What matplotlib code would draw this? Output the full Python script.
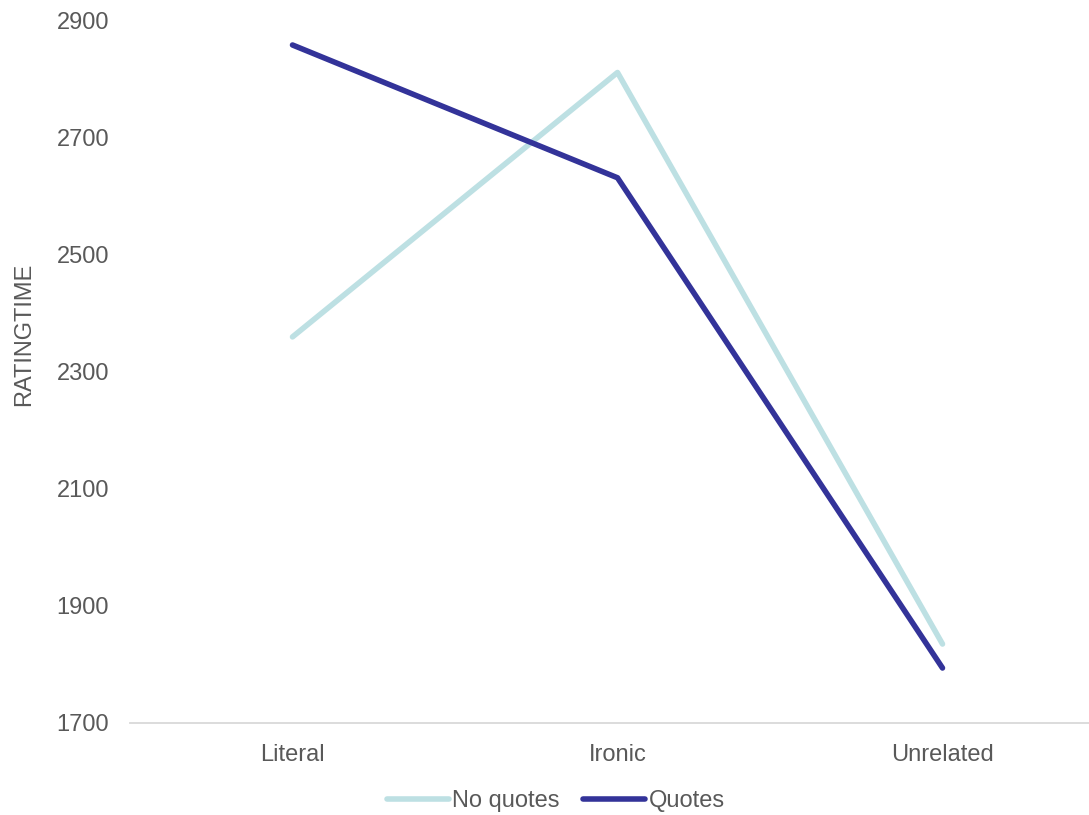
import numpy as np
import matplotlib.pyplot as plt

plt.rcParams['font.family'] = ['Liberation Sans', 'DejaVu Sans']

#Chart data
categories = ["Literal", "Ironic", "Unrelated"]
no_quotes = [2360, 2812, 1835]
quotes = [2859, 2632, 1794]
y_ticks = [1700, 1900, 2100, 2300, 2500, 2700, 2900]

grey = "#595959"
fs = 17

fig = plt.figure(figsize=(10.89, 8.15), dpi=100)
ax = fig.add_axes([130 / 1089, 1 - 723 / 815, 975 / 1089, 702 / 815])

x = np.arange(len(categories))
ax.plot(x, no_quotes, color="#BDE0E3", lw=4, solid_capstyle="round", label="No quotes")
ax.plot(x, quotes, color="#333399", lw=4, solid_capstyle="round", label="Quotes")

ax.set_xlim(-0.5, len(categories) - 0.5)
ax.set_ylim(1700, 2900)
ax.set_xticks(x)
ax.set_xticklabels(categories)
ax.set_yticks(y_ticks)
ax.tick_params(axis="both", length=0, labelsize=fs, colors=grey)
ax.tick_params(axis="x", pad=15)
ax.tick_params(axis="y", pad=15)

for s in ["top", "right", "left"]:
    ax.spines[s].set_visible(False)
ax.spines["bottom"].set_color("#D9D9D9")
ax.spines["bottom"].set_linewidth(1.3)

fig.text(24 / 1089, 1 - 334 / 815, "RATINGTIME", rotation=90, ha="center", va="center",
         fontsize=fs, color=grey)

fig.legend(loc="center", bbox_to_anchor=(556 / 1089, 1 - 801 / 815), ncol=2, frameon=False,
           fontsize=fs, labelcolor=grey, handlelength=2.6, handletextpad=0.15, columnspacing=1.0)

fig.savefig("out.png", dpi=100)
